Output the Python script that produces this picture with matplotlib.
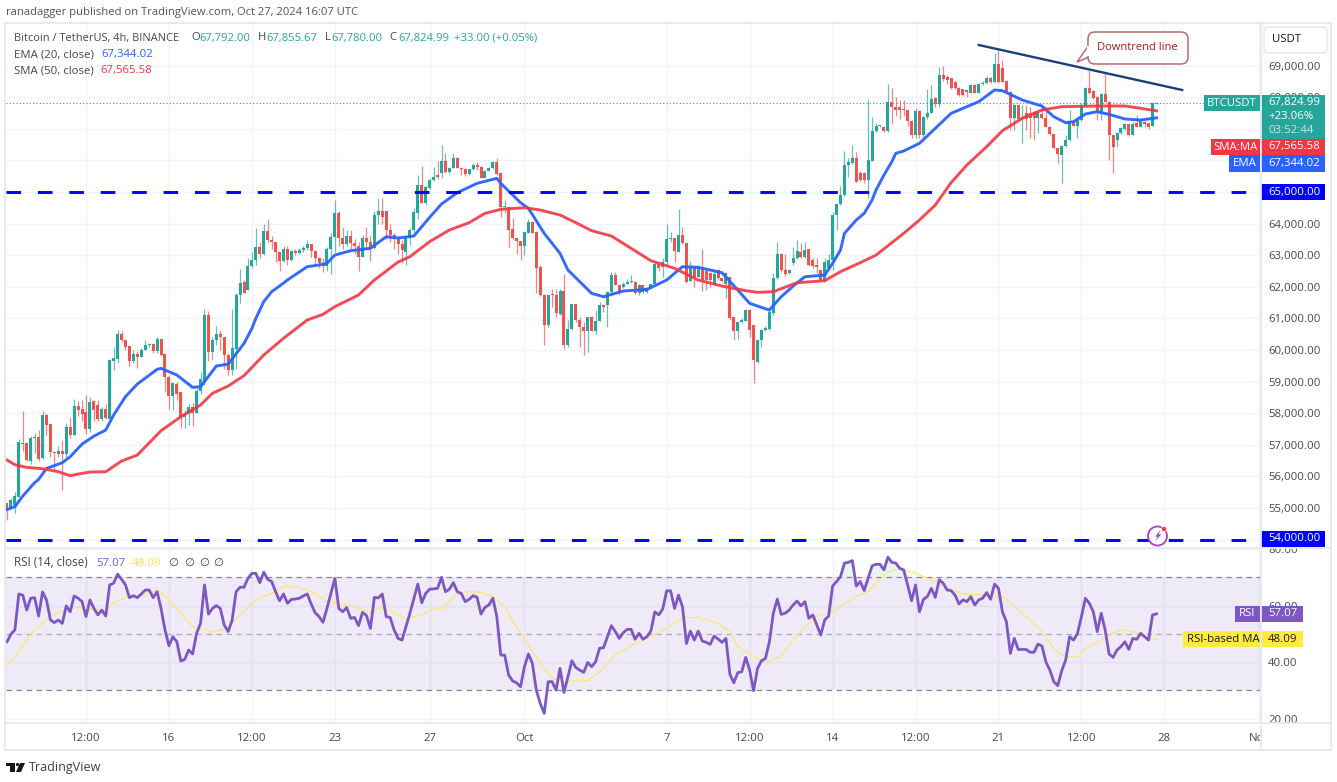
import numpy as np
import matplotlib
matplotlib.use("Agg")
import matplotlib.pyplot as plt
from matplotlib.patches import Rectangle, FancyBboxPatch, Polygon, Circle
from matplotlib.lines import Line2D
from matplotlib.ticker import FuncFormatter
from matplotlib.transforms import Affine2D

W, H = 1337, 782

# 4h candles, first bar is Sep 9 04:00
opens = [
    55140, 54990, 55100, 55350, 57060, 57060, 56500, 57210, 57250, 56570,
    57940, 57650, 56780, 56720, 56810, 56700, 57570, 57300, 58220, 58120,
    58040, 57490, 58380, 58250, 57810, 58120, 57800, 59650, 59720, 60500,
    60300, 60120, 59650, 59860, 59790, 60000, 60150, 60180, 59950, 60340,
    59870, 59130, 58550, 58920, 58660, 57870, 57970, 58180, 58010, 58700,
    59000, 61100, 59940, 60310, 60500, 60420, 59840, 59360, 60020, 61735,
    62150, 61900, 62650, 62830, 63260, 63050, 63750, 63480, 63420, 63100,
    62800, 63200, 62850, 63130, 63060, 63160, 63210, 63340, 63120, 62900,
    62760, 62650, 63200, 63560, 64330, 63530, 63360, 63590, 63390, 63300,
    62950, 63530, 63420, 63210, 64270, 64400, 64400, 63800, 63650, 63500,
    63350, 63110, 63530, 63790, 64340, 65220, 64660, 65110, 65380, 65540,
    65590, 65990, 65640, 65770, 66060, 65770, 65740, 65560, 65710, 65850,
    65800, 65450, 65670, 65750, 65940, 65590, 64530, 64530, 63830, 63530,
    63450, 63300, 63710, 64040, 63740, 62610, 61740, 60790, 61740, 61740,
    61140, 61850, 60150, 60660, 61450, 60950, 60730, 60610, 61030, 60610,
    60920, 61420, 61420, 61840, 62370, 62050, 61980, 62100, 62160, 62160,
    61810, 62040, 61840, 61950, 62090, 62710, 62610, 62790, 63500, 63530,
    63110, 63640, 63370, 62190, 62610, 62320, 62630, 62500, 62420, 62100,
    62530, 62260, 62100, 62320, 61030, 60610, 60890, 60930, 61260, 60790,
    59630, 60310, 60630, 60660, 61160, 62260, 63050, 62530, 62440, 62740,
    62900, 63108, 62950, 63180, 62850, 62680, 62530, 62180, 62580, 62840,
    64270, 64610, 64900, 65850, 65900, 66080, 65610, 65610, 65380, 65990,
    66930, 67085, 67060, 66940, 67860, 67700, 67700, 67610, 67590, 67250,
    66800, 67570, 66800, 67380, 67510, 67960, 67780, 68700, 68650, 68600,
    68490, 68300, 68250, 68225, 68140, 68380, 68140, 68410, 68440, 68620,
    68470, 69050, 68930, 68510, 68170, 67330, 67750, 67310, 67490, 67490,
    67520, 67330, 67465, 67330, 67060, 66820, 66380, 66170, 66450, 66640,
    67220, 67085, 67275, 67720, 68280, 68200, 68010, 67540, 68100, 67860,
    66800, 66640, 66850, 66990, 67140, 66810, 67170, 67060, 67220, 67170,
    67090, 67792,
]
closes = [
    54930, 55250, 55380, 57090, 57020, 56510, 57200, 57250, 56550, 57940,
    57620, 56780, 56730, 56810, 56700, 57570, 57300, 58220, 58100, 57970,
    57490, 58360, 58100, 57800, 58120, 57840, 59680, 59750, 60500, 60300,
    60100, 59650, 59860, 59790, 60000, 60150, 60180, 59950, 60340, 59840,
    59130, 58550, 58940, 58620, 57870, 57970, 58180, 58010, 58700, 59070,
    61100, 59940, 60310, 60500, 60420, 59840, 59360, 60050, 61735, 62105,
    61810, 62650, 62830, 63260, 63050, 63750, 63480, 63420, 63100, 62800,
    63200, 62850, 63130, 63060, 63160, 63210, 63340, 63120, 62900, 62760,
    62650, 63200, 63560, 64330, 63530, 63360, 63590, 63390, 63300, 62950,
    63530, 63420, 63210, 64270, 64400, 64200, 63800, 63650, 63500, 63350,
    63160, 63530, 63790, 64370, 65220, 64660, 65140, 65380, 65480, 65480,
    65990, 65640, 65770, 66060, 65770, 65740, 65560, 65710, 65850, 65780,
    65450, 65670, 65750, 65940, 65560, 64530, 64550, 63790, 63530, 63450,
    63300, 63720, 64040, 63710, 62580, 61740, 60790, 61740, 61730, 61160,
    61870, 60150, 60660, 61450, 60950, 60730, 60610, 61030, 60610, 60920,
    61420, 61370, 61840, 62370, 62050, 61790, 62100, 62160, 62180, 61810,
    62040, 61840, 61950, 62090, 62710, 62600, 62790, 63500, 63530, 63130,
    63640, 63370, 62160, 62610, 62320, 62630, 62210, 62210, 62210, 62400,
    62260, 62190, 62420, 61000, 60610, 60890, 60950, 61260, 60630, 59680,
    60310, 60630, 60690, 61210, 62270, 63050, 62530, 62400, 62530, 62900,
    63140, 62950, 63160, 62690, 62660, 62630, 62210, 62790, 62840, 64270,
    64610, 64900, 65850, 65960, 66080, 65320, 65380, 65380, 66010, 66930,
    67085, 67090, 66930, 67860, 67700, 67590, 67590, 67590, 67250, 66800,
    67570, 66800, 67380, 67510, 67930, 67780, 68700, 68560, 68540, 68280,
    68280, 68070, 68070, 68170, 68380, 68140, 68410, 68440, 68600, 68470,
    69050, 68490, 68490, 68170, 67330, 67750, 67310, 67370, 67320, 67330,
    67330, 67570, 67330, 67060, 66820, 66380, 66190, 66450, 66640, 67220,
    67085, 67275, 67750, 68280, 68140, 67960, 67540, 68100, 67860, 66800,
    66430, 66870, 67010, 67140, 66800, 67140, 67060, 67275, 67140, 67060,
    67800, 67824.99,
]
highs = [
    55150, 55300, 55510, 57170, 58070, 57060, 57290, 57360, 57450, 58060,
    57980, 57700, 56800, 56960, 57160, 57700, 57880, 58460, 58380, 58430,
    58570, 58500, 58420, 58400, 58200, 58300, 59720, 60100, 60630, 60590,
    60350, 60120, 60000, 59950, 60060, 60300, 60220, 60220, 60400, 60350,
    59900, 59200, 59000, 58980, 58660, 58100, 58300, 58310, 58800, 59300,
    61300, 61240, 60420, 60760, 60630, 60420, 59900, 61300, 61800, 62570,
    62200, 62900, 63100, 63850, 63400, 63980, 64130, 63600, 63420, 63100,
    63300, 63300, 63150, 63200, 63230, 63300, 63480, 63360, 63150, 62950,
    62900, 63270, 63700, 64740, 64390, 63900, 63800, 63790, 63500, 63400,
    63650, 63900, 63650, 64400, 64800, 64800, 64400, 64000, 63700, 63600,
    63480, 63550, 63850, 64480, 65530, 65820, 65200, 65450, 65800, 65990,
    66484, 66220, 65800, 66230, 66100, 65800, 65770, 65730, 65900, 65960,
    65820, 65700, 65800, 65990, 66060, 65600, 64740, 64540, 64160, 63540,
    63460, 63730, 64130, 64060, 63750, 62700, 61760, 61750, 61920, 61920,
    61920, 62390, 60950, 61460, 61460, 61050, 60890, 61040, 61070, 61260,
    61530, 61460, 61850, 62480, 62480, 62060, 62150, 62250, 62370, 62180,
    62080, 62060, 62000, 62100, 62790, 62730, 62900, 63970, 63740, 63540,
    64460, 63900, 63380, 62820, 62650, 62680, 63180, 62520, 62450, 62500,
    62550, 62280, 62450, 62340, 61050, 60930, 61000, 61300, 61280, 60800,
    60350, 60650, 60750, 61250, 62430, 63400, 63060, 63030, 62560, 63260,
    63480, 63370, 63420, 63200, 62900, 62900, 62540, 62900, 63050, 64370,
    64620, 65200, 66290, 66060, 66470, 66270, 65650, 65620, 67940, 67380,
    67170, 67120, 67080, 68400, 68280, 68000, 67900, 67900, 67600, 67260,
    67650, 67580, 67400, 68250, 68380, 68000, 68960, 68980, 68700, 68620,
    68500, 68320, 68270, 68230, 68400, 68400, 68440, 68500, 68660, 68650,
    69380, 69490, 69170, 68530, 68180, 67780, 67760, 67750, 67750, 67690,
    67550, 67600, 67750, 67700, 67080, 66830, 66400, 66500, 66800, 67590,
    67240, 67300, 67800, 68320, 68860, 68220, 68030, 68140, 68750, 67880,
    66810, 66900, 67040, 67170, 67160, 67200, 67430, 67300, 67240, 67190,
    67860, 67855.67,
]
lows = [
    54620, 54950, 54830, 55350, 56800, 56480, 56400, 56750, 56500, 56550,
    57300, 56600, 56200, 56600, 55560, 56600, 57200, 57300, 57900, 57750,
    57350, 57400, 57750, 57750, 57750, 57800, 57750, 59350, 59600, 60250,
    60000, 59500, 59600, 59420, 59790, 60000, 60100, 59900, 59900, 59800,
    58700, 58120, 58100, 58400, 57540, 57540, 57620, 57600, 58000, 58600,
    58900, 59650, 59700, 60150, 60000, 59400, 59200, 59200, 59400, 61500,
    61800, 61900, 62600, 62700, 62900, 63000, 63400, 63200, 62780, 62500,
    62780, 62700, 62800, 63000, 63050, 63100, 63150, 62950, 62700, 62600,
    62450, 62500, 62400, 63100, 63300, 63200, 63300, 63200, 63050, 62500,
    62950, 63200, 62800, 63200, 64000, 64000, 63500, 63400, 63200, 63050,
    62740, 62690, 63320, 63700, 64130, 64640, 64590, 65100, 65350, 65400,
    65450, 65600, 65600, 65750, 65750, 65530, 65500, 65540, 65680, 65700,
    65430, 65440, 65650, 65730, 65540, 64220, 64320, 63270, 63500, 63050,
    62840, 63000, 63700, 63700, 61790, 61700, 60150, 60730, 61370, 61050,
    61100, 60020, 60100, 60630, 60890, 60100, 59840, 59940, 60600, 60500,
    60900, 61200, 60730, 61800, 62040, 61740, 61950, 62080, 62120, 61780,
    61740, 61800, 61800, 61940, 62050, 62500, 62320, 62700, 63400, 62790,
    63100, 63360, 62130, 62180, 62000, 62300, 61870, 61890, 62000, 62050,
    62200, 62150, 61630, 60950, 60310, 60340, 60850, 60900, 60420, 58940,
    59580, 60100, 60600, 60640, 61100, 62240, 62450, 62350, 62400, 62700,
    62880, 62900, 62900, 62650, 62600, 62420, 62210, 62150, 62550, 62530,
    63790, 64590, 64880, 65480, 65880, 65310, 65350, 65270, 64796, 65980,
    66900, 67050, 66900, 66900, 67140, 67400, 67300, 67400, 67100, 66700,
    66700, 66700, 66750, 67300, 67500, 67700, 67700, 68500, 68400, 68250,
    68250, 68050, 68050, 68010, 68130, 68120, 68130, 68380, 68400, 68450,
    68450, 68450, 68480, 68150, 66950, 66960, 67280, 66560, 66960, 66700,
    66640, 66860, 67300, 67050, 66800, 66370, 65900, 65270, 66420, 66620,
    67070, 66700, 67250, 67700, 68100, 67940, 67270, 67270, 67840, 66010,
    65610, 66430, 66830, 66970, 66780, 66790, 67040, 67040, 67050, 67000,
    67070, 67780,
]

ema_idx = [
    0, 2, 4, 7, 8, 10, 14, 16, 19, 22, 25, 27, 30, 33, 38, 39, 43, 47, 49, 53,
    56, 60, 62, 63, 64, 65, 67, 69, 71, 76, 79, 81, 83, 87, 92, 96, 99, 103,
    107, 110, 114, 119, 124, 125, 130, 132, 136, 140, 142, 148, 151, 156, 162,
    167, 171, 175, 181, 185, 188, 193, 196, 199, 202, 207, 209, 211, 212, 215,
    217, 219, 220, 222, 224, 225, 227, 231, 235, 239, 246, 250, 252, 257, 262,
    265, 268, 270, 273, 276, 279, 283, 287, 291,
]
ema_vals = [
    54950, 55040, 55375, 55800, 55900, 56250, 56430, 56620, 57020, 57270,
    57465, 57940, 58520, 58920, 59385, 59415, 59205, 58815, 58835, 59490,
    59550, 60205, 60680, 60999, 61260, 61526, 61843, 62020, 62212, 62634,
    62687, 62738, 63002, 63140, 63215, 63582, 63540, 63604, 64195, 64617,
    64976, 65271, 65429, 65271, 64659, 64480, 63689, 63055, 62528, 61790,
    61684, 61863, 61916, 62211, 62633, 62612, 62444, 61895, 61473, 61262,
    61684, 62020, 62316, 62369, 62739, 63160, 63688, 64110, 64321, 64743,
    65060, 65534, 65956, 66220, 66294, 66537, 67011, 67486, 67855, 68225,
    68203, 67908, 67718, 67380, 67190, 67222, 67465, 67539, 67454, 67307,
    67275, 67344.02,
]
sma_idx = [
    0, 2, 5, 9, 13, 16, 18, 21, 25, 29, 33, 39, 44, 49, 52, 56, 60, 65, 70, 76,
    80, 83, 89, 93, 99, 102, 107, 112, 117, 121, 125, 131, 135, 140, 144, 148,
    153, 158, 163, 169, 175, 181, 187, 190, 194, 200, 207, 211, 216, 220, 227,
    231, 235, 239, 243, 248, 252, 257, 262, 267, 276, 283, 286, 291,
]
sma_vals = [
    56515, 56368, 56283, 56240, 56146, 56019, 56072, 56135, 56146, 56483,
    56673, 57443, 57885, 58256, 58625, 58857, 59184, 59838, 60366, 60946,
    61125, 61368, 61737, 62212, 62780, 62950, 63425, 63794, 64026, 64321,
    64448, 64500, 64427, 64269, 64026, 63773, 63604, 63214, 62823, 62581,
    62211, 62021, 61874, 61821, 61842, 62127, 62190, 62475, 62760, 63000,
    63688, 64110, 64585, 65292, 65851, 66431, 66937, 67328, 67592, 67697,
    67718, 67718, 67665, 67565.58,
]

rsi_vals = [
    47.2, 49.9, 51.4, 64.1, 63.7, 58.4, 62.6, 62.8, 56.3, 64.8,
    62.0, 54.9, 54.0, 54.9, 53.7, 59.9, 57.8, 63.4, 62.6, 61.4,
    56.1, 62.0, 59.0, 56.7, 58.4, 56.3, 67.3, 67.9, 71.1, 69.3,
    67.3, 62.8, 63.5, 62.8, 64.1, 65.5, 65.5, 62.8, 64.9, 59.0,
    51.4, 45.8, 49.0, 47.2, 40.4, 41.0, 44.3, 42.9, 50.2, 53.7,
    67.3, 57.0, 59.0, 60.0, 59.0, 53.1, 50.8, 54.9, 64.9, 66.5,
    66.5, 69.6, 71.4, 71.4, 68.1, 71.8, 69.3, 68.5, 64.9, 61.7,
    64.1, 60.8, 62.2, 62.3, 62.6, 63.4, 64.1, 60.6, 57.5, 56.1,
    54.1, 59.0, 64.3, 69.6, 59.0, 57.8, 59.3, 55.5, 55.8, 52.9,
    57.6, 56.5, 51.9, 62.9, 62.7, 64.1, 56.1, 55.8, 51.4, 48.4,
    47.8, 52.5, 57.3, 62.5, 67.6, 61.0, 64.3, 65.8, 65.9, 66.1,
    70.0, 64.9, 65.8,
    68.1, 64.9, 64.3, 61.4, 62.2, 63.5, 62.9, 57.0, 59.4, 60.2,
    62.6, 56.1, 42.5, 42.5, 35.4, 33.4, 32.7, 31.3, 38.4, 42.9,
    39.6, 30.1, 25.4, 21.9, 33.1, 33.1, 30.1, 37.8, 29.3, 34.8,
    40.5, 38.1, 37.2, 36.4, 39.9, 38.4, 40.1, 44.9, 45.1, 49.0,
    52.9, 50.8, 48.4, 50.4, 51.6, 51.6, 48.1, 50.2, 48.1, 49.0,
    51.0, 57.8, 56.7, 58.8, 65.2, 65.2, 59.0, 63.7, 59.6, 46.6,
    51.0, 47.8, 51.0, 47.5, 47.0, 46.3, 49.2, 48.2, 47.0, 48.4,
    35.8, 32.7, 36.3, 36.6, 41.7, 37.2, 29.9, 37.8, 40.5, 41.3,
    47.2, 57.3, 62.3, 56.9, 57.3, 58.4, 60.2, 61.6, 59.9, 61.4,
    55.5, 56.7, 53.1, 49.6, 54.9, 56.3, 66.9, 68.5, 70.2, 75.0,
    75.3, 75.9, 66.9, 68.5, 65.3, 69.6, 74.0, 74.6, 74.6, 72.6,
    77.1, 75.3, 75.0,
    73.2, 72.6, 67.3, 61.7, 67.3, 57.8, 62.2, 63.2, 66.1, 62.9,
    69.1, 67.9, 65.5, 65.3, 63.7, 60.6, 62.0, 61.4, 63.2, 60.2,
    62.0, 62.6, 64.6, 62.2, 67.6, 66.1, 57.8, 54.3, 43.1, 48.4,
    44.5, 44.5, 44.5, 43.5, 43.5, 46.4, 45.7, 40.1, 37.2, 33.1,
    31.7, 37.0, 40.7, 49.0, 47.8, 50.2, 56.1, 62.6, 60.8, 57.8,
    50.8, 57.3, 51.4, 42.9, 41.7, 44.3, 45.5, 47.2, 44.5, 48.4,
    48.1, 50.2, 49.0, 47.8, 56.7, 57.07,
]
rsi_ma_idx = [
    0, 2, 4, 6, 8, 11, 13, 15, 18, 21, 25, 27, 30, 35, 38, 41, 44, 47, 50, 52,
    56, 59, 63, 67, 70, 74, 78, 81, 85, 89, 92, 95, 101, 105, 107, 110, 112,
    114, 117, 120, 123, 126, 128, 131, 133, 136, 138, 141, 145, 147, 150, 154,
    159, 163, 167, 171, 175, 180, 183, 185, 188, 191, 193, 196, 199, 203, 205,
    209, 212, 215, 218, 221, 223, 226, 230, 234, 238, 242, 247, 252, 255, 258,
    262, 265, 268, 271, 273, 276, 279, 282, 285, 289, 291,
]
rsi_ma_vals = [
    39.0, 41.9, 46.0, 49.9, 52.5, 56.3, 57.5, 58.8, 59.3, 59.0, 58.4, 61.0,
    62.9, 63.7, 65.5, 62.2, 57.3, 52.5, 51.4, 50.5, 52.2, 56.7, 62.2, 64.3,
    66.9, 66.5, 64.3, 61.4, 60.8, 59.0, 57.8, 59.3, 55.5, 56.7, 58.4, 59.0,
    61.4, 64.3, 65.0, 64.6, 63.2, 59.6, 54.3, 48.4, 43.7, 37.8, 34.2, 32.8,
    33.7, 33.4, 36.6, 42.5, 46.6, 49.2, 51.9, 55.8, 55.8, 53.7, 50.8, 45.5,
    42.9, 40.7, 40.1, 42.2, 47.8, 53.7, 56.3, 57.8, 60.6, 63.2, 64.9, 69.1,
    72.0, 72.8, 71.4, 69.1, 66.1, 64.1, 63.7, 63.2, 59.9, 56.1, 50.8, 44.9,
    41.7, 41.9, 44.9, 46.9, 49.6, 51.4, 50.8, 48.1, 48.09,
]

tick_idx = [20, 41, 62, 83, 107, 131, 167, 188, 209, 230, 251, 272, 293, 317]
tick_labels = ["12:00", "16", "12:00", "23", "27", "Oct", "7", "12:00", "14",
               "12:00", "21", "12:00", "28", "Nov"]

price_ticks = list(range(54000, 70000, 1000))
hidden_price_labels = [54000, 65000, 66000, 67000]  # covered by the side boxes
rsi_ticks = [20, 40, 60, 80]
level_prices = [65000, 54000]
trend_idx = [246, 297.5]
trend_vals = [69649, 68225]
last_price = 67824.99

GREEN = "#26a69a"
RED = "#ef5350"
EMA_BLUE = "#2962ff"
SMA_RED = "#f23645"
PURPLE = "#7e57c2"
YELLOW = "#ffeb3b"
LEVEL_BLUE = "#0000ff"
GRID = "#f0f3fa"
FRAME = "#e6e8f0"
TEXT = "#434651"
FS = 8.2

plt.rcParams["font.family"] = ["Open Sans", "DejaVu Sans"]
fig = plt.figure(figsize=(W / 100, H / 100), dpi=100, facecolor="white")

# everything outside the two panes is placed in image pixels
px = Affine2D().scale(1 / W, -1 / H).translate(0, 1) + fig.transFigure


def axes_px(x0, y0, x1, y1):
    ax = fig.add_axes([x0 / W, 1 - y1 / H, (x1 - x0) / W, (y1 - y0) / H])
    for s in ax.spines.values():
        s.set_visible(False)
    return ax


def label(x, y, s, color=TEXT, size=FS, ha="left", z=8, **kw):
    return fig.text(x, y, s, color=color, fontsize=size, ha=ha, va="center",
                    transform=px, zorder=z, **kw)


def box(x0, y0, x1, y1, color, z=6):
    fig.add_artist(Rectangle((x0, y0), x1 - x0, y1 - y0, transform=px,
                             facecolor=color, edgecolor="none", zorder=z))


def frame_line(x0, y0, x1, y1, lw=1.3):
    fig.add_artist(Line2D([x0, x1], [y0, y1], transform=px, color=FRAME,
                          lw=lw, zorder=7))


def setup_x(ax):
    ax.set_xlim(-0.25, 317.2)
    ax.set_xticks(tick_idx)
    ax.grid(True, color=GRID, lw=1.0)
    ax.set_axisbelow(True)
    ax.yaxis.tick_right()
    ax.tick_params(axis="y", length=0, pad=5.8, labelsize=FS, labelcolor=TEXT)


def price_label(v, _):
    return "" if v in hidden_price_labels else f"{v:,.2f}"


def draw_price_pane():
    ax = axes_px(6, 23, 1260, 547)
    setup_x(ax)
    ax.set_ylim(53763, 70345)
    ax.tick_params(axis="x", length=0, labelbottom=False)
    ax.set_yticks(price_ticks)
    ax.yaxis.set_major_formatter(FuncFormatter(price_label))

    idx = np.arange(len(closes))
    o, c = np.array(opens), np.array(closes)
    colors = [GREEN if b >= a else RED for a, b in zip(o, c)]
    ax.vlines(idx, lows, highs, colors=colors, lw=0.9, alpha=0.7, zorder=2)
    ax.bar(idx, np.maximum(np.abs(c - o), 25), bottom=np.minimum(o, c),
           width=0.76, color=colors, lw=0, zorder=3)

    ax.plot(ema_idx, ema_vals, color=EMA_BLUE, lw=2.1, alpha=0.95, zorder=4)
    ax.plot(sma_idx, sma_vals, color=SMA_RED, lw=2.1, alpha=0.9, zorder=4)

    for p in level_prices:
        ax.plot([-0.25, 314.7], [p, p], color=LEVEL_BLUE, lw=2.1,
                dashes=(5.0, 5.77), dash_capstyle="butt", zorder=5)
    ax.axhline(last_price, color=GREEN, lw=0.8, ls=(0, (1, 2)), zorder=2)
    ax.plot(trend_idx, trend_vals, color="#1c3f7a", lw=1.7, zorder=5)


def draw_rsi_pane():
    ax = axes_px(6, 549, 1260, 723)
    setup_x(ax)
    ax.set_ylim(18.5, 80)
    ax.set_yticks(rsi_ticks)
    ax.yaxis.set_major_formatter(FuncFormatter(lambda v, _: f"{v:.2f}"))
    ax.set_xticklabels(tick_labels)
    ax.tick_params(axis="x", length=0, pad=7, labelsize=FS, labelcolor=TEXT)

    idx = np.arange(len(rsi_vals))
    vals = np.array(rsi_vals)
    ax.axhspan(30, 70, color=PURPLE, alpha=0.12, lw=0, zorder=1)
    ax.fill_between(idx, 70, vals, where=vals > 70, color=GREEN, alpha=0.1,
                    lw=0, zorder=1)
    for lev, a in [(70, 0.9), (50, 0.55), (30, 0.9)]:
        ax.axhline(lev, color="#787b86", lw=0.9, alpha=a, ls=(0, (4.5, 3.5)),
                   zorder=2)
    ax.plot(rsi_ma_idx, rsi_ma_vals, color="#fde76e", lw=0.9, zorder=3)
    ax.plot(idx, vals, color=PURPLE, lw=2.0, zorder=4)


def draw_frame():
    frame_line(5, 23, 1331, 23)
    frame_line(5, 23, 5, 750)
    frame_line(1331, 23, 1331, 750)
    frame_line(5, 750, 1331, 750)
    frame_line(5, 548, 1331, 548)
    frame_line(5, 723, 1331, 723)
    frame_line(1260.5, 23, 1260.5, 750)
    # hides the part of the "Nov" label that runs past the pane
    box(1261, 724, 1330, 749, "white", z=5)


def draw_header():
    label(6, 12, "ranadagger published on TradingView.com, Oct 27, 2024 16:07 UTC",
          color="#50535e", size=8.1)
    label(14, 38, "Bitcoin / TetherUS, 4h, BINANCE", size=7.9)
    for x, s in [(191, "O"), (258, "H"), (325, "L"), (389, "C")]:
        label(x, 38, s, size=8.1)
    for x, s in [(199, "67,792.00"), (266, "67,855.67"), (331, "67,780.00"),
                 (398, "67,824.99"), (454, "+33.00 (+0.05%)")]:
        label(x, 38, s, color=GREEN, size=8.1)
    label(14, 55, "EMA (20, close)", size=8.2)
    label(101, 55, "67,344.02", color=EMA_BLUE)
    label(14, 71, "SMA (50, close)", size=8.2)
    label(100, 71, "67,565.58", color=SMA_RED)

    label(14, 563, "RSI (14, close)", size=8.4)
    label(96, 563, "57.07", color=PURPLE)
    label(132, 563, "48.09", color="#fbe34a")
    for x in [168, 184, 199, 213]:
        label(x, 563, "∅")


def draw_side_labels():
    fig.add_artist(FancyBboxPatch((1264, 27), 63, 26, transform=px,
                                  boxstyle="round,pad=0,rounding_size=4",
                                  facecolor="white", edgecolor=FRAME, lw=1.0,
                                  zorder=6))
    label(1272, 40, "USDT", color="#131722")

    # last price block
    box(1204, 95, 1260, 111, GREEN)
    label(1232, 103, "BTCUSDT", color="white", ha="center")
    box(1261, 95, 1325, 139, GREEN)
    label(1268, 102.5, "67,824.99", color="white")
    label(1268, 116.5, "+23.06%", color="white")
    label(1268, 130.5, "03:52:44", color="#c8e8e4")

    box(1211, 139, 1260, 155, SMA_RED)
    label(1235.5, 147, "SMA:MA", color="white", ha="center")
    box(1261, 139, 1325, 155, SMA_RED)
    label(1268, 147, "67,565.58", color="white")

    box(1229, 155, 1260, 172, EMA_BLUE)
    label(1244.5, 163.5, "EMA", color="white", ha="center")
    box(1261, 155, 1325, 172, EMA_BLUE)
    label(1268, 163.5, "67,344.02", color="white")

    box(1261, 184, 1325, 200, LEVEL_BLUE)
    label(1268, 192, "65,000.00", color="white")
    box(1261, 531, 1325, 547, LEVEL_BLUE)
    label(1268, 539, "54,000.00", color="white")

    box(1235, 606, 1260, 622, PURPLE)
    label(1247.5, 614, "RSI", color="white", ha="center")
    box(1261, 606, 1303, 622, PURPLE)
    label(1268, 614, "57.07", color="white")

    box(1183, 631, 1260, 647, YELLOW)
    label(1187, 639, "RSI-based MA", color="#131722")
    box(1261, 631, 1303, 647, YELLOW)
    label(1268, 639, "48.09", color="#131722")


def draw_callout():
    edge = "#b86b6b"
    fig.add_artist(Polygon([(1089, 45), (1077, 62), (1089, 57)], transform=px,
                           facecolor="white", edgecolor=edge, lw=1.1, zorder=6))
    fig.add_artist(FancyBboxPatch((1088, 32), 100, 32, transform=px,
                                  boxstyle="round,pad=0,rounding_size=7",
                                  facecolor="white", edgecolor=edge, lw=1.1,
                                  zorder=6))
    box(1087, 46, 1090, 56, "white", z=7)
    label(1137.5, 48, "Downtrend line", color="#a81c1c", size=8.0, ha="center")


def draw_badge():
    fig.add_artist(Circle((1157.5, 536), 9.5, transform=px, facecolor="white",
                          edgecolor="#a93cc0", lw=1.3, zorder=6))
    fig.add_artist(Polygon([(1160.3, 530), (1155.3, 536.7), (1157.7, 536.7),
                            (1154.7, 541.7), (1161.3, 534.3), (1158.7, 534.3)],
                           transform=px, facecolor="#a93cc0", edgecolor="none",
                           zorder=7))
    fig.add_artist(Circle((1164, 529), 2.6, transform=px, facecolor="#f23645",
                          edgecolor="white", lw=0.5, zorder=8))


def draw_footer():
    dark = "#131722"
    fig.add_artist(Polygon([(6, 763), (15, 763), (15, 772), (10, 772), (10, 766),
                            (6, 766)], transform=px, facecolor=dark,
                           edgecolor="none", zorder=6))
    fig.add_artist(Circle((17.5, 764.6), 1.6, transform=px, facecolor=dark,
                          edgecolor="none", zorder=6))
    fig.add_artist(Polygon([(20, 763), (25, 763), (21, 772), (16, 772)],
                           transform=px, facecolor=dark, edgecolor="none",
                           zorder=6))
    label(29, 767.5, "TradingView", color="#3a3e4a", size=9.0)


def main():
    draw_price_pane()
    draw_rsi_pane()
    draw_frame()
    draw_header()
    draw_side_labels()
    draw_callout()
    draw_badge()
    draw_footer()
    fig.savefig("out.png", dpi=100, facecolor="white")


if __name__ == "__main__":
    main()
